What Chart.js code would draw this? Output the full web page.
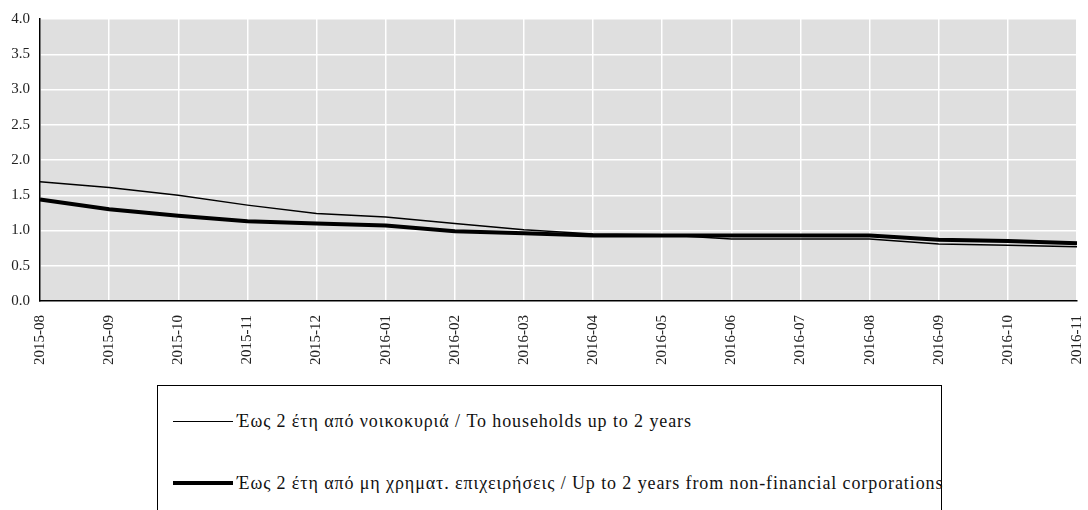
<!DOCTYPE html>
<html>
<head>
<meta charset="utf-8">
<script src="https://cdn.jsdelivr.net/npm/chart.js@4"></script>
<style>
  body { margin: 0; background: #fff; font-family: "Liberation Serif", serif; }
  #wrap { position: relative; width: 1088px; height: 510px; overflow: hidden; }
  #chart { position: absolute; left: 0; top: 0; }
  #legend {
    position: absolute; left: 157px; top: 385px; width: 785px; height: 160px;
    border: 1px solid #000; box-sizing: border-box; font-size: 18px; letter-spacing: 0.9px; color: #111;
  }
  .item { position: absolute; left: 15px; display: flex; align-items: center; white-space: nowrap; }
  .swatch { display: inline-block; width: 60px; margin-right: 4px; background: #000; }
</style>
</head>
<body>
<div id="wrap">
  <canvas id="chart" width="1088" height="380"></canvas>
  <div id="legend"></div>
</div>
<script>
const months = [
  "2015-08", "2015-09", "2015-10", "2015-11", "2015-12", "2016-01", "2016-02", "2016-03",
  "2016-04", "2016-05", "2016-06", "2016-07", "2016-08", "2016-09", "2016-10", "2016-11"
];
const households = [1.69, 1.61, 1.50, 1.36, 1.24, 1.19, 1.10, 1.01, 0.95, 0.94, 0.88, 0.88, 0.88, 0.81, 0.79, 0.77];
const corporations = [1.44, 1.30, 1.21, 1.13, 1.10, 1.07, 0.99, 0.96, 0.93, 0.93, 0.93, 0.93, 0.93, 0.87, 0.85, 0.82];
const seriesNames = [
  "Έως 2 έτη από νοικοκυριά / To households up to 2 years",
  "Έως 2 έτη από μη χρηματ. επιχειρήσεις / Up to 2 years from non-financial corporations"
];

const plotBg = {
  id: "plotBg",
  beforeDraw(chart) {
    const { ctx, chartArea: a } = chart;
    ctx.save();
    ctx.fillStyle = "#dfdfdf";
    ctx.fillRect(a.left, a.top, a.right - a.left, a.bottom - a.top);
    ctx.restore();
  },
};

const tickFont = { family: "'Liberation Serif', serif", size: 15 };

const chart = new Chart(document.getElementById("chart").getContext("2d"), {
  type: "line",
  data: {
    labels: months,
    datasets: [
      {
        label: seriesNames[0],
        data: households,
        borderColor: "#000",
        borderWidth: 1.5,
        pointRadius: 0,
        tension: 0,
      },
      {
        label: seriesNames[1],
        data: corporations,
        borderColor: "#000",
        borderWidth: 4,
        pointRadius: 0,
        tension: 0,
      },
    ],
  },
  options: {
    responsive: false,
    animation: false,
    layout: { padding: { top: 17, right: 11, left: 0, bottom: 0 } },
    plugins: { legend: { display: false }, tooltip: { enabled: false } },
    scales: {
      x: {
        offset: false,
        grid: { color: "#ffffff", lineWidth: 1.5, drawTicks: false },
        border: { color: "#000", width: 1.5 },
        ticks: {
          font: tickFont, color: "#222", minRotation: 90, maxRotation: 90,
          padding: 14, autoSkip: false,
        },
        afterFit(scale) {
          scale.height = 79;
          scale.paddingLeft = 0;
          scale.paddingRight = 0;
        },
      },
      y: {
        min: 0,
        max: 4,
        grid: { color: "#ffffff", lineWidth: 1.5, drawTicks: false },
        border: { color: "#000", width: 1.5 },
        ticks: {
          font: tickFont, color: "#222", stepSize: 0.5, padding: 10,
          callback: (v) => v.toFixed(1),
        },
        afterFit(scale) { scale.width = 40; },
      },
    },
  },
  plugins: [plotBg],
});

// legend as html, built from the chart's datasets
const legend = document.getElementById("legend");
const rowTops = [23, 85];
chart.data.datasets.forEach((ds, i) => {
  const row = document.createElement("div");
  row.className = "item";
  row.style.top = rowTops[i] + "px";
  row.style.height = "24px";
  const sw = document.createElement("span");
  sw.className = "swatch";
  sw.style.height = (i === 0 ? 1 : 4) + "px";
  const txt = document.createElement("span");
  txt.textContent = ds.label;
  row.appendChild(sw);
  row.appendChild(txt);
  legend.appendChild(row);
});
</script>
</body>
</html>
